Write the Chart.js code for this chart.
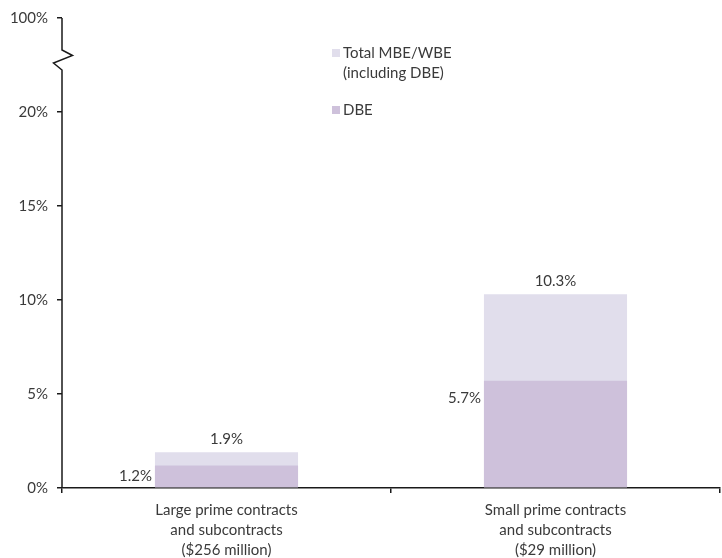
<!DOCTYPE html>
<html>
<head>
<meta charset="utf-8">
<script src="https://cdn.jsdelivr.net/npm/chart.js@4.4.1/dist/chart.umd.min.js"></script>
<style>
  html, body { margin: 0; padding: 0; background: #fff; }
  #wrap { width: 722px; height: 558px; position: relative; }
</style>
</head>
<body>
<div id="wrap"><canvas id="myChart"></canvas></div>
<script>
// categories (x axis labels, split in lines)
const categories = [
   ['Large prime contracts', 'and subcontracts', '($256 million)'],
   ['Small prime contracts', 'and subcontracts', '($29 million)']
];
// share of contract dollars, in %
const totalShare = [1.9, 10.3];
const dbeShare = [1.2, 5.7];
const seriesNames = [['Total MBE/WBE', '(including DBE)'], ['DBE']];
// the axis is broken above 20%, the top tick stands for 100%
const axisMax = 25;
const axisTopLabel = '100%';

const FONT = 'Lato, "Open Sans", sans-serif';
const TEXT = '#3a3a3a';
const AXIS = '#1a1a1a';
const colTotal = '#e1deec';
const colDbe = '#cec1db';

// value labels, legend and the broken y axis line
const extras = {
   id: 'extras',
   afterDatasetsDraw(chart) {
      const ctx = chart.ctx;
      const area = chart.chartArea;
      const yScale = chart.scales.y;
      ctx.save();
      ctx.font = '15px ' + FONT;
      ctx.fillStyle = TEXT;

      // totals above the bars
      const totMeta = chart.getDatasetMeta(0);
      totMeta.data.forEach((bar, i) => {
         ctx.textAlign = 'center';
         ctx.textBaseline = 'middle';
         ctx.fillText(totalShare[i].toFixed(1) + '%', bar.x, bar.y - 13);
      });

      // DBE values to the left of the bars
      const dbeMeta = chart.getDatasetMeta(1);
      dbeMeta.data.forEach((bar, i) => {
         const h = bar.base - bar.y;
         ctx.textAlign = 'right';
         ctx.textBaseline = 'middle';
         ctx.fillText(dbeShare[i].toFixed(1) + '%', bar.x - bar.width / 2 - 3, bar.y + Math.min(h / 2, 17));
      });

      // legend
      const lx = 332;
      const rows = [
         { color: colTotal, y: 53, lines: seriesNames[0] },
         { color: colDbe, y: 110, lines: seriesNames[1] }
      ];
      rows.forEach(r => {
         ctx.fillStyle = r.color;
         ctx.fillRect(lx, r.y - 4, 8, 8);
         ctx.fillStyle = TEXT;
         ctx.textAlign = 'left';
         ctx.textBaseline = 'middle';
         r.lines.forEach((t, k) => ctx.fillText(t, lx + 11, r.y + k * 20));
      });

      // y axis line with the break mark
      const x = area.left;
      const top = yScale.getPixelForValue(axisMax);
      const bottom = yScale.getPixelForValue(0);
      ctx.strokeStyle = AXIS;
      ctx.lineWidth = 1.5;
      ctx.beginPath();
      ctx.moveTo(x, top);
      ctx.lineTo(x, 50);
      ctx.lineTo(x + 10.5, 55.5);
      ctx.lineTo(x - 8.5, 63);
      ctx.lineTo(x, 70);
      ctx.lineTo(x, bottom);
      ctx.stroke();
      ctx.restore();
   }
};

let ctx = document.getElementById('myChart');
let myChart = new Chart(ctx, {
   type: 'bar',
   data: {
      labels: categories,
      datasets: [
         {
            label: 'Total MBE/WBE (including DBE)',
            data: totalShare,
            backgroundColor: colTotal,
            borderWidth: 0,
            grouped: false,
            order: 1,
            barPercentage: 0.435,
            categoryPercentage: 1
         },
         {
            label: 'DBE',
            data: dbeShare,
            backgroundColor: colDbe,
            borderWidth: 0,
            grouped: false,
            order: 0,
            barPercentage: 0.435,
            categoryPercentage: 1
         }
      ]
   },
   options: {
      responsive: true,
      maintainAspectRatio: false,
      animation: false,
      layout: { padding: { top: 16, right: 2, left: 0, bottom: 0 } },
      plugins: {
         legend: { display: false },
         tooltip: { enabled: false }
      },
      scales: {
         x: {
            grid: {
               offset: true,
               drawOnChartArea: false,
               drawTicks: true,
               tickLength: 5,
               color: AXIS,
               lineWidth: 1.5
            },
            border: { display: true, color: AXIS, width: 1.5 },
            ticks: {
               color: TEXT,
               font: { family: FONT, size: 15, lineHeight: 1.34 },
               padding: 7,
               maxRotation: 0
            },
            afterFit(scale) { scale.height = 70; }
         },
         y: {
            min: 0,
            max: axisMax,
            grid: {
               drawOnChartArea: false,
               drawTicks: true,
               tickLength: 5,
               color: AXIS,
               lineWidth: 1.5
            },
            border: { display: false },
            ticks: {
               stepSize: 5,
               color: TEXT,
               font: { family: FONT, size: 15 },
               padding: 9,
               callback: v => v === axisMax ? axisTopLabel : v + '%'
            },
            afterFit(scale) { scale.width = 62; }
         }
      }
   },
   plugins: [extras]
});
</script>
</body>
</html>
